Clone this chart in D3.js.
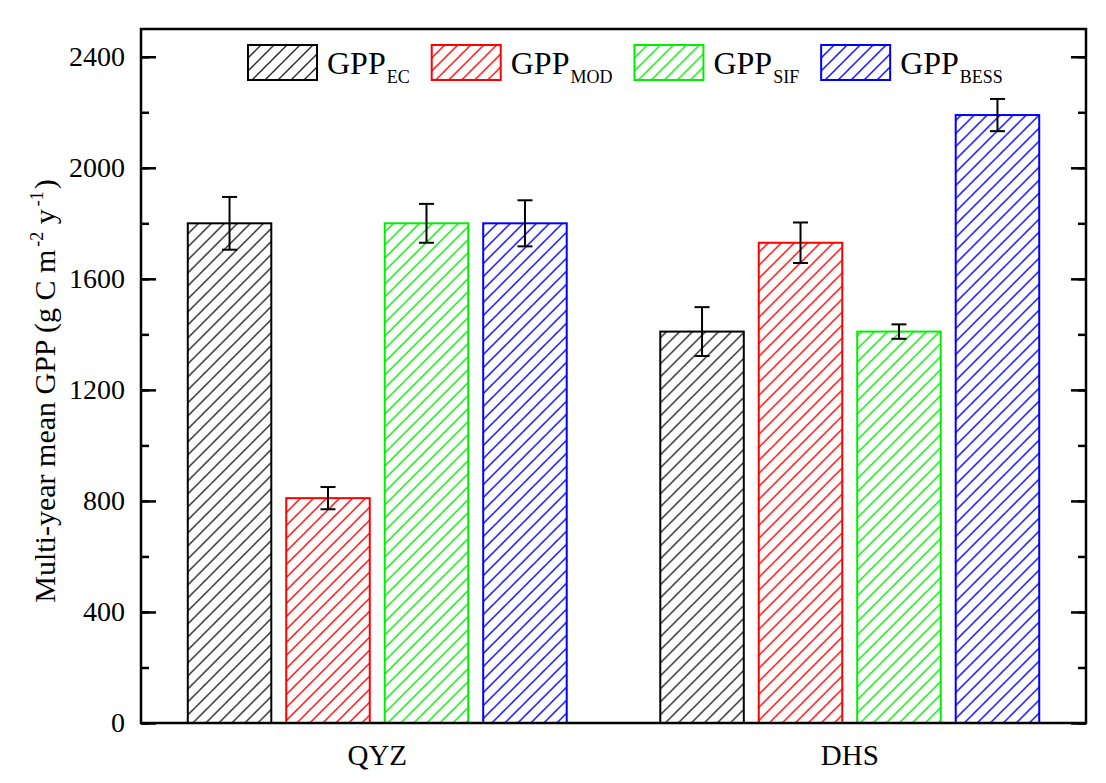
<!DOCTYPE html>
<html>
<head>
<meta charset="utf-8">
<script src="https://cdn.jsdelivr.net/npm/d3@7"></script>
<style>
  body { margin: 0; background: #fff; }
  text { font-family: "Liberation Serif", "Times New Roman", serif; fill: #000; }
</style>
</head>
<body>
<svg id="chart" width="1106" height="783"></svg>
<script>
const categories = ["QYZ", "DHS"];
const series = ["EC", "MOD", "SIF", "BESS"];
const seriesColors = ["#000000", "#ff0000", "#00ee00", "#0000ff"];
const qyzMean = [1800, 810, 1800, 1800];
const qyzErr = [95, 40, 70, 83];
const dhsMean = [1410, 1730, 1410, 2190];
const dhsErr = [88, 73, 26, 58];
const yTicks = [0, 400, 800, 1200, 1600, 2000, 2400];

const margin = {left: 141, right: 20, top: 29, bottom: 60};
const W = 1106, H = 783;
const svg = d3.select("#chart");

// rows built from the arrays above
const rows = [
  {cat: "QYZ", mean: qyzMean, err: qyzErr},
  {cat: "DHS", mean: dhsMean, err: dhsErr}
];

const x0 = d3.scaleBand().domain(categories).range([margin.left, W - margin.right]).padding(0);
const groupW = x0.bandwidth() * 0.802;
const x1 = d3.scaleBand().domain(series).range([0, groupW]).paddingInner(0.152).paddingOuter(0);
const y = d3.scaleLinear().domain([0, 2500]).range([H - margin.bottom, margin.top]);

// hatch patterns
const defs = svg.append("defs");
const hs = 13;
series.forEach((s, i) => {
  const p = defs.append("pattern")
    .attr("id", "hatch" + i)
    .attr("patternUnits", "userSpaceOnUse")
    .attr("width", hs).attr("height", hs);
  p.append("rect").attr("width", hs).attr("height", hs).attr("fill", "#fff");
  p.append("path")
    .attr("d", `M0,${hs} L${hs},0 M${-hs/2},${hs/2} L${hs/2},${-hs/2} M${hs/2},${hs*1.5} L${hs*1.5},${hs/2}`)
    .attr("stroke", seriesColors[i])
    .attr("stroke-width", 1.4)
    .attr("opacity", i === 0 ? 0.85 : 1);
});

// bars
const groups = svg.selectAll("g.grp").data(rows).enter().append("g")
  .attr("class", "grp")
  .attr("transform", d => `translate(${x0(d.cat) + (x0.bandwidth() - groupW) / 2},0)`);

groups.selectAll("rect.bar")
  .data(d => series.map((s, i) => ({s: s, i: i, v: d.mean[i], e: d.err[i]})))
  .enter().append("rect")
  .attr("class", "bar")
  .attr("x", d => x1(d.s))
  .attr("width", x1.bandwidth())
  .attr("y", d => y(d.v))
  .attr("height", d => y(0) - y(d.v))
  .attr("fill", d => `url(#hatch${d.i})`)
  .attr("stroke", d => seriesColors[d.i])
  .attr("stroke-width", 2);

// error bars
const eb = groups.selectAll("g.err")
  .data(d => series.map((s, i) => ({s: s, v: d.mean[i], e: d.err[i]})))
  .enter().append("g").attr("class", "err")
  .attr("stroke", "#000").attr("stroke-width", 2);
const cx = d => x1(d.s) + x1.bandwidth() / 2;
eb.append("line").attr("x1", cx).attr("x2", cx)
  .attr("y1", d => y(d.v + d.e)).attr("y2", d => y(d.v - d.e));
eb.append("line").attr("x1", d => cx(d) - 7.5).attr("x2", d => cx(d) + 7.5)
  .attr("y1", d => y(d.v + d.e)).attr("y2", d => y(d.v + d.e));
eb.append("line").attr("x1", d => cx(d) - 7.5).attr("x2", d => cx(d) + 7.5)
  .attr("y1", d => y(d.v - d.e)).attr("y2", d => y(d.v - d.e));

// axes
const minor = d3.range(0, 2501, 200);
const left = svg.append("g").attr("transform", `translate(${margin.left},0)`)
  .call(d3.axisLeft(y).tickValues(minor).tickSize(-8).tickFormat(""));
left.append("g").call(d3.axisLeft(y).tickValues(yTicks).tickSize(-15).tickPadding(16).tickFormat(d3.format("d")));
const right = svg.append("g").attr("transform", `translate(${W - margin.right},0)`)
  .call(d3.axisRight(y).tickValues(minor).tickSize(-8).tickFormat(""));
right.append("g").call(d3.axisRight(y).tickValues(yTicks).tickSize(-15).tickFormat(""));
svg.selectAll(".domain").remove();
svg.selectAll(".tick line").attr("stroke", "#000").attr("stroke-width", 2.5);
left.selectAll(".tick text").attr("font-size", 28).attr("font-family", "Liberation Serif, serif").attr("fill", "#000");

const xAxis = svg.append("g").attr("transform", `translate(0,${y(0)})`)
  .call(d3.axisBottom(x0).tickSize(0).tickPadding(21));
xAxis.select(".domain").remove();
xAxis.selectAll(".tick text").attr("font-size", 29).attr("font-family", "Liberation Serif, serif").attr("fill", "#000");

// frame
svg.append("rect")
  .attr("x", margin.left).attr("y", margin.top)
  .attr("width", W - margin.right - margin.left)
  .attr("height", y(0) - margin.top)
  .attr("fill", "none").attr("stroke", "#000").attr("stroke-width", 2.5);

// y label
const yl = svg.append("text")
  .attr("transform", "translate(55,391) rotate(-90)")
  .attr("text-anchor", "middle")
  .attr("font-size", 30);
yl.append("tspan").text("Multi-year mean GPP (g C m");
yl.append("tspan").attr("font-size", 18).attr("dy", -12).attr("dx", 3).text("-2");
yl.append("tspan").attr("dy", 12).text(" y");
yl.append("tspan").attr("font-size", 18).attr("dy", -12).attr("dx", 3).text("-1");
yl.append("tspan").attr("dy", 12).attr("dx", 2).text(")");

// legend
let lx = 248;
series.forEach((s, i) => {
  const g = svg.append("g").attr("transform", `translate(${lx},45)`);
  g.append("rect").attr("width", 69).attr("height", 35)
    .attr("fill", `url(#hatch${i})`)
    .attr("stroke", seriesColors[i]).attr("stroke-width", 2);
  const t = g.append("text").attr("x", 79).attr("y", 29).attr("font-size", 32);
  t.append("tspan").text("GPP");
  t.append("tspan").attr("font-size", 18).attr("dy", 9).attr("dx", 1).text(s);
  lx += 79 + t.node().getComputedTextLength() + 23;
});
</script>
</body>
</html>
